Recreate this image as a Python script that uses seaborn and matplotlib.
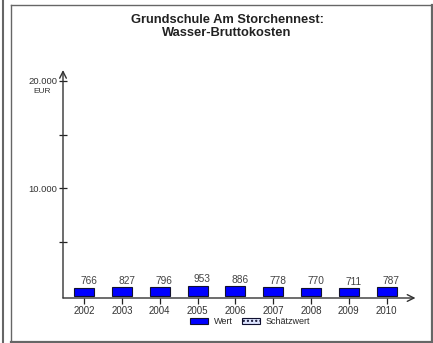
import matplotlib
matplotlib.use("Agg")
import matplotlib.pyplot as plt
import seaborn as sns
import pandas as pd
from matplotlib.patches import Patch
from matplotlib.lines import Line2D

years = ["2002", "2003", "2004", "2005", "2006", "2007", "2008", "2009", "2010"]
values = [766, 827, 796, 953, 886, 778, 770, 711, 787]
title = "Grundschule Am Storchennest:\nWasser-Bruttokosten"
ytick_vals = [5000, 10000, 15000, 20000]
ytick_labels = ["", "10.000", "", "20.000"]

sns.set_theme(style="white")
plt.rcParams['font.family'] = ['Liberation Sans', 'DejaVu Sans']

W, H = 433, 343
fig = plt.figure(figsize=(W / 100, H / 100), dpi=100)
ax = fig.add_axes([63 / W, (H - 298) / H, (412 - 63) / W, (298 - 70) / H])

df = pd.DataFrame({"Jahr": years, "Wert": values})
sns.barplot(data=df, x="Jahr", y="Wert", color="#0000ff", saturation=1,
            width=0.53, edgecolor="#101030", linewidth=0.8, ax=ax)

ax.set_xlim(-0.56, 8.67)
ax.set_ylim(-200, 21000)
for s in ax.spines.values():
    s.set_visible(False)
ax.set_xlabel("")
ax.set_ylabel("")

# axis lines with arrows
ax.annotate("", xy=(0, 1), xytext=(0, 0), xycoords="axes fraction",
            arrowprops=dict(arrowstyle="->", color="#333333", lw=1.0, shrinkA=0, shrinkB=0))
ax.annotate("", xy=(1.01, 0), xytext=(0, 0), xycoords="axes fraction",
            arrowprops=dict(arrowstyle="->", color="#333333", lw=1.0, shrinkA=0, shrinkB=0))

ax.set_yticks(ytick_vals)
ax.set_yticklabels(ytick_labels, fontsize=6.8, color="#333333")
ax.tick_params(axis="y", direction="inout", length=6, width=0.9, color="#222222", pad=1, left=True)
ax.tick_params(axis="x", direction="out", length=4, width=0.9, color="#222222", labelsize=7,
               labelcolor="#333333", pad=2, bottom=True)
ax.text(-0.035, 20000 - 700, "EUR", transform=ax.get_yaxis_transform(), ha="right", va="top",
        fontsize=6, color="#333333")

for i, v in enumerate(values):
    ax.text(i + 0.12, v + 120, f"{v}", ha="center", va="bottom", fontsize=7.3, color="#444444")

fig.text(227 / W, 1 - 14 / H, title, ha="center", va="top", fontsize=9.3,
         fontweight="bold", color="#222222", linespacing=1.15)

handles = [Patch(facecolor="#0000ff", edgecolor="#101030", linewidth=0.8, label="Wert"),
           Patch(facecolor="#dde4ff", edgecolor="#101030", hatch="....", linewidth=0.8, label="Schätzwert")]
fig.legend(handles=handles, loc="center", bbox_to_anchor=(250 / W, 1 - 322 / H), ncol=2,
           frameon=False, fontsize=6.5, handlelength=2.0, handleheight=0.6, columnspacing=1.0,
           handletextpad=0.6)

# outer frame (thin top/left, thicker right/bottom)
def fline(x0, y0, x1, y1, lw):
    fig.lines.append(Line2D([x0 / W, x1 / W], [1 - y0 / H, 1 - y1 / H], transform=fig.transFigure,
                            color="#666666", linewidth=lw, solid_capstyle="projecting"))

fline(10.7, 4.7, 431.5, 4.7, 1.0)
fline(10.7, 4.7, 10.7, 341.5, 1.0)
fline(431.5, 4.7, 431.5, 341.5, 1.6)
fline(10.7, 341.5, 431.5, 341.5, 1.6)
fline(2.5, 0, 2.5, 342, 1.5)

fig.savefig("out.png", dpi=100)
